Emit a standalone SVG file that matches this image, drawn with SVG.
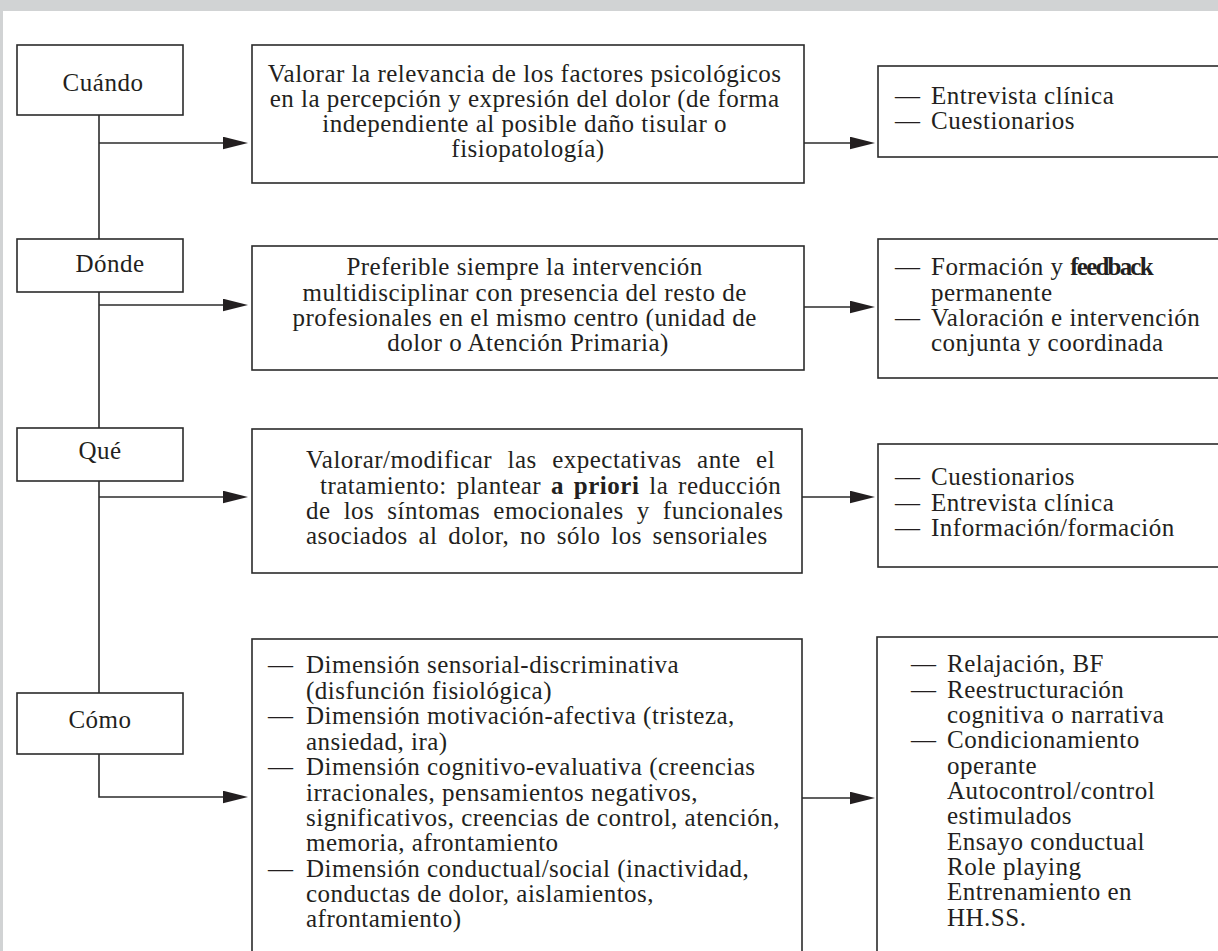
<svg xmlns="http://www.w3.org/2000/svg" width="1218" height="951" viewBox="0 0 1218 951">
<style>
.bg{fill:#d1d3d4}
.box{fill:#ffffff;stroke:#2b2b2b;stroke-width:1.6}
.ln{fill:none;stroke:#2b2b2b;stroke-width:1.6}
.t{font-family:"Liberation Serif","Times New Roman",serif;font-size:25px;fill:#231f20;letter-spacing:0.5px}
.c{text-anchor:middle}
.b{font-weight:bold}
</style>
<defs>
<marker id="ah" markerUnits="userSpaceOnUse" markerWidth="26" markerHeight="14" refX="21" refY="6.5" orient="auto" viewBox="0 0 26 14">
<path d="M0,0.2 L25,6.5 L0,12.8 z" fill="#231f20"/>
</marker>
</defs>
<rect class="bg" x="0" y="0" width="1218" height="11"/>
<rect class="bg" x="0" y="0" width="3" height="951"/>
<rect x="3" y="11" width="1215" height="940" fill="#ffffff"/>

<g id="connectors">
<path class="ln" d="M99 115 V239"/>
<path class="ln" d="M99 292 V428"/>
<path class="ln" d="M99 481 V693"/>
<path class="ln" d="M99 143 H244" marker-end="url(#ah)"/>
<path class="ln" d="M99 305 H244" marker-end="url(#ah)"/>
<path class="ln" d="M99 497 H244" marker-end="url(#ah)"/>
<path class="ln" d="M99 754 V797 H244" marker-end="url(#ah)"/>
<path class="ln" d="M804 143 H871" marker-end="url(#ah)"/>
<path class="ln" d="M804 307 H871" marker-end="url(#ah)"/>
<path class="ln" d="M802 497 H871" marker-end="url(#ah)"/>
<path class="ln" d="M802 798 H871" marker-end="url(#ah)"/>
</g>

<g id="cuando">
<rect class="box" x="17" y="45" width="166" height="70"/>
<text class="t c" x="103" y="91">Cuándo</text>
</g>
<g id="donde">
<rect class="box" x="17" y="239" width="166" height="53"/>
<text class="t c" x="110" y="272">Dónde</text>
</g>
<g id="que">
<rect class="box" x="17" y="428" width="166" height="53"/>
<text class="t c" x="100" y="459">Qué</text>
</g>
<g id="como">
<rect class="box" x="17" y="693" width="166" height="61"/>
<text class="t c" x="100" y="728">Cómo</text>
</g>

<g id="box1">
<rect class="box" x="252" y="45" width="552" height="138"/>
<text class="t c">
<tspan x="528" y="81.5">Valorar la relevancia de los factores psicológicos</tspan>
<tspan x="528" y="106.5">en la percepción y expresión del dolor (de forma</tspan>
<tspan x="528" y="131.5">independiente al posible daño tisular o</tspan>
<tspan x="528" y="156.5">fisiopatología)</tspan>
</text>
</g>
<g id="box2">
<rect class="box" x="252" y="246" width="552" height="124"/>
<text class="t c">
<tspan x="528" y="275">Preferible siempre la intervención</tspan>
<tspan x="528" y="300.5">multidisciplinar con presencia del resto de</tspan>
<tspan x="528" y="326">profesionales en el mismo centro (unidad de</tspan>
<tspan x="528" y="351">dolor o Atención Primaria)</tspan>
</text>
</g>
<g id="box3">
<rect class="box" x="252" y="429" width="550" height="144"/>
<text class="t" x="306" y="468" word-spacing="8.6">Valorar/modificar las expectativas ante el</text>
<text class="t" x="320" y="494" word-spacing="3.1">tratamiento: plantear <tspan class="b">a priori</tspan> la reducción</text>
<text class="t" x="306" y="519" word-spacing="6.3">de los síntomas emocionales y funcionales</text>
<text class="t" x="306" y="544" word-spacing="4">asociados al dolor, no sólo los sensoriales</text>
</g>
<g id="box4">
<rect class="box" x="252" y="639" width="550" height="340"/>
<text class="t">
<tspan x="268" y="673">— </tspan><tspan x="306" y="673">Dimensión sensorial-discriminativa</tspan>
<tspan x="306" y="698.5">(disfunción fisiológica)</tspan>
<tspan x="268" y="724">— </tspan><tspan x="306" y="724">Dimensión motivación-afectiva (tristeza,</tspan>
<tspan x="306" y="749.5">ansiedad, ira)</tspan>
<tspan x="268" y="775">— </tspan><tspan x="306" y="775">Dimensión cognitivo-evaluativa (creencias</tspan>
<tspan x="306" y="800.5">irracionales, pensamientos negativos,</tspan>
<tspan x="306" y="826">significativos, creencias de control, atención,</tspan>
<tspan x="306" y="851">memoria, afrontamiento</tspan>
<tspan x="268" y="876.5">— </tspan><tspan x="306" y="876.5">Dimensión conductual/social (inactividad,</tspan>
<tspan x="306" y="902">conductas de dolor, aislamientos,</tspan>
<tspan x="306" y="927">afrontamiento)</tspan>
</text>
</g>

<g id="r1">
<rect class="box" x="878" y="66" width="360" height="91"/>
<text class="t">
<tspan x="895" y="104">— </tspan><tspan x="931" y="104">Entrevista clínica</tspan>
<tspan x="895" y="129">— </tspan><tspan x="931" y="129">Cuestionarios</tspan>
</text>
</g>
<g id="r2">
<rect class="box" x="878" y="239" width="360" height="139"/>
<text class="t">
<tspan x="895" y="275">— </tspan><tspan x="931" y="275">Formación y <tspan class="b" letter-spacing="-1.8">feedback</tspan></tspan>
<tspan x="931" y="300.5">permanente</tspan>
<tspan x="895" y="326">— </tspan><tspan x="931" y="326">Valoración e intervención</tspan>
<tspan x="931" y="351">conjunta y coordinada</tspan>
</text>
</g>
<g id="r3">
<rect class="box" x="878" y="444" width="360" height="123"/>
<text class="t">
<tspan x="895" y="485">— </tspan><tspan x="931" y="485">Cuestionarios</tspan>
<tspan x="895" y="510.5">— </tspan><tspan x="931" y="510.5">Entrevista clínica</tspan>
<tspan x="895" y="536">— </tspan><tspan x="931" y="536">Información/formación</tspan>
</text>
</g>
<g id="r4">
<rect class="box" x="877" y="637" width="360" height="340"/>
<text class="t">
<tspan x="911" y="672">— </tspan><tspan x="947" y="672">Relajación, BF</tspan>
<tspan x="911" y="697.5">— </tspan><tspan x="947" y="697.5">Reestructuración</tspan>
<tspan x="947" y="723">cognitiva o narrativa</tspan>
<tspan x="911" y="748">— </tspan><tspan x="947" y="748">Condicionamiento</tspan>
<tspan x="947" y="773.5">operante</tspan>
<tspan x="947" y="799">Autocontrol/control</tspan>
<tspan x="947" y="824">estimulados</tspan>
<tspan x="947" y="849.5">Ensayo conductual</tspan>
<tspan x="947" y="875">Role playing</tspan>
<tspan x="947" y="900">Entrenamiento en</tspan>
<tspan x="947" y="926">HH.SS.</tspan>
</text>
</g>
</svg>
